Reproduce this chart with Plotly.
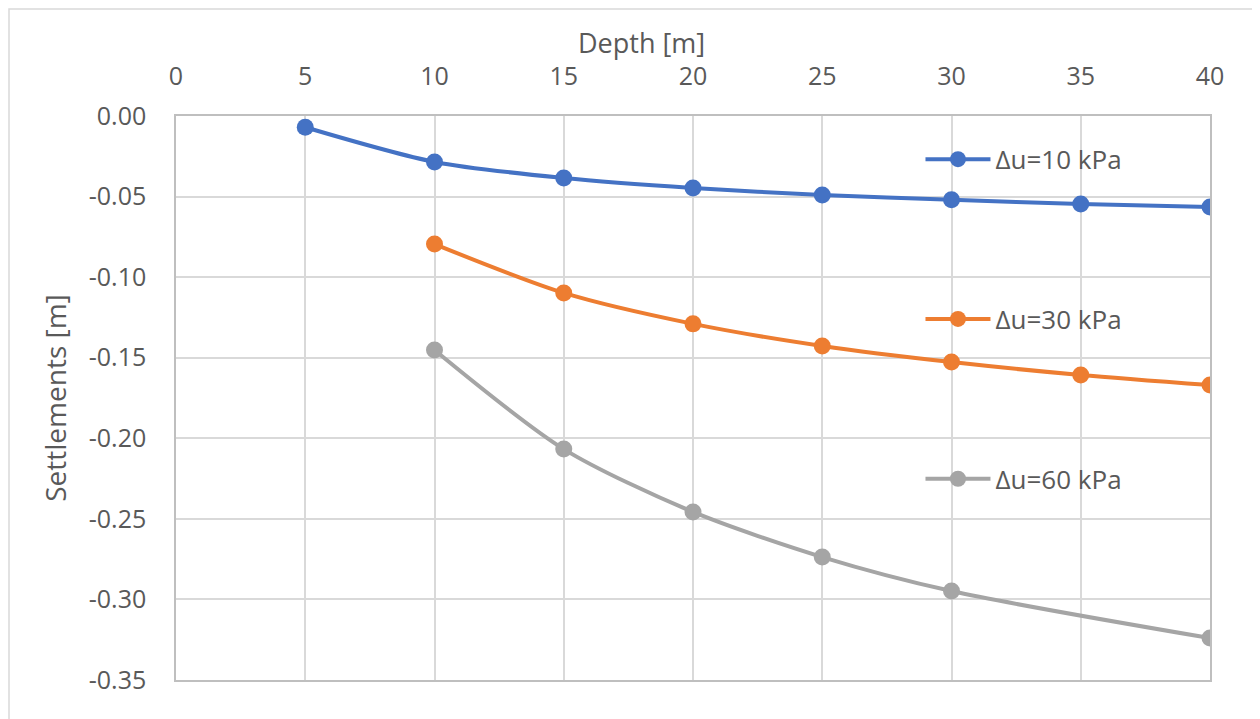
import plotly.graph_objects as go

depth_10 = [5, 10, 15, 20, 25, 30, 35, 40]
settle_10 = [-0.007, -0.0285, -0.0385, -0.0447, -0.049, -0.052, -0.0546, -0.0565]

depth_30 = [10, 15, 20, 25, 30, 35, 40]
settle_30 = [-0.0795, -0.1098, -0.129, -0.1427, -0.1527, -0.1607, -0.167]

depth_60 = [10, 15, 20, 25, 30, 40]
settle_60 = [-0.1452, -0.2067, -0.2457, -0.2737, -0.2948, -0.324]

series_names = ["Δu=10 kPa", "Δu=30 kPa", "Δu=60 kPa"]
colors = ["#4472C4", "#ED7D31", "#A5A5A5"]

x_ticks = [0, 5, 10, 15, 20, 25, 30, 35, 40]
y_ticks = [0.0, -0.05, -0.10, -0.15, -0.20, -0.25, -0.30, -0.35]

FONT = "Open Sans, Noto Sans, Liberation Sans, sans-serif"
TXT = "#595959"

# the page body adds an 8 px offset; figure is sized to fill the rest of the window
W, H = 1252, 711
L, R, T, B = 168, 50, 108, 39
PW, PH = W - L - R, H - T - B

fig = go.Figure()
for i, (xs, ys) in enumerate([(depth_10, settle_10), (depth_30, settle_30), (depth_60, settle_60)]):
    fig.add_trace(go.Scatter(
        x=xs, y=ys, name=series_names[i], mode="lines+markers",
        line=dict(color=colors[i], width=4, shape="spline", smoothing=0.8),
        marker=dict(color=colors[i], size=17),
        legendgroup=f"g{i}",
    ))

fig.update_layout(
    width=W, height=H,
    paper_bgcolor="white", plot_bgcolor="white",
    margin=dict(l=L, r=R, t=T, b=B),
    font=dict(family=FONT, color=TXT, size=25),
    showlegend=True,
    legend=dict(
        x=0.72, y=0.965, xanchor="left", yanchor="top",
        bgcolor="rgba(0,0,0,0)", tracegroupgap=123,
        itemwidth=65, font=dict(size=26, color=TXT, family=FONT),
    ),
    xaxis=dict(
        side="top", range=[0, 40], tickvals=x_ticks, ticktext=[str(v) for v in x_ticks],
        showgrid=True, gridcolor="#D9D9D9", gridwidth=1.5,
        showline=True, linecolor="#BFBFBF", linewidth=1.5, mirror=True,
        ticks="", zeroline=False, ticklabelstandoff=19,
        tickfont=dict(size=25, color=TXT),
    ),
    yaxis=dict(
        range=[-0.35, 0], tickvals=y_ticks, ticktext=[f"{v:.2f}" for v in y_ticks],
        showgrid=True, gridcolor="#D9D9D9", gridwidth=1.5,
        showline=True, linecolor="#BFBFBF", linewidth=1.5, mirror=True,
        ticks="", zeroline=False, ticklabelstandoff=23,
        title=dict(text="Settlements [m]", standoff=14, font=dict(size=28, color=TXT)),
        tickfont=dict(size=25, color=TXT),
    ),
    annotations=[dict(text="Depth [m]", xref="paper", yref="paper",
                      x=0.45, y=1 + 74 / PH, xanchor="center", yanchor="middle",
                      showarrow=False, font=dict(size=27, color=TXT))],
    shapes=[dict(type="rect", xref="paper", yref="paper",
                 x0=-(L - 1) / PW, x1=(PW + R + 20) / PW,
                 y0=-(B + 20) / PH, y1=(PH + T - 1) / PH,
                 line=dict(color="#D9D9D9", width=1.5), layer="below")],
)

fig.write_html("out.html")
